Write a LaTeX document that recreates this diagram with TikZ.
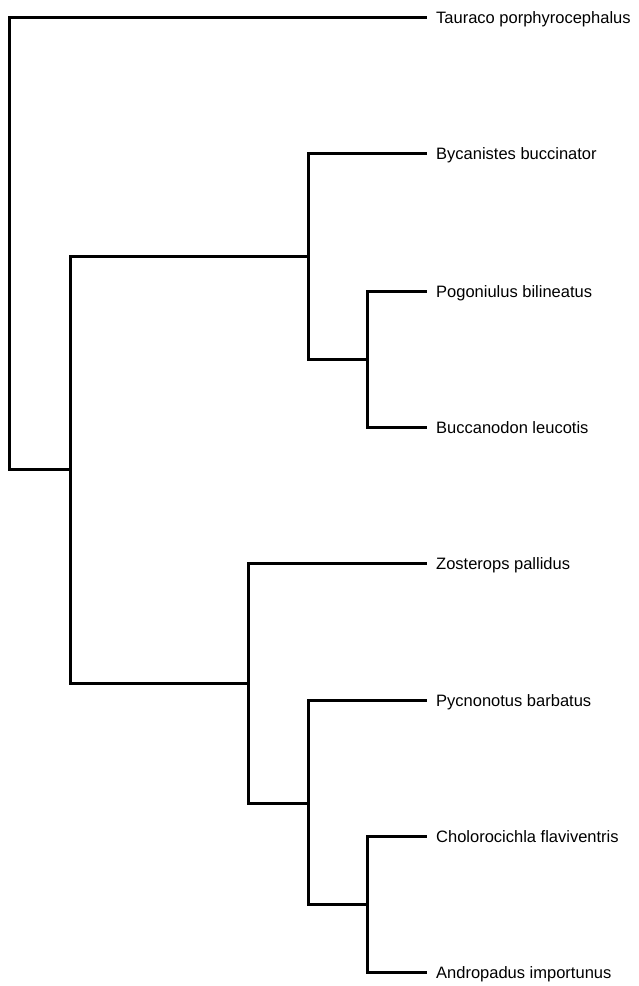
\documentclass[tikz,border=0pt]{standalone}
\usepackage{fontspec}
\setmainfont{Liberation Sans}
\begin{document}
\begin{tikzpicture}[x=1pt,y=-1pt,
  edge/.style={line width=3pt,line join=miter,line cap=butt},
  leaf/.style={anchor=base west,inner sep=0pt,yshift=-6pt,font=\fontsize{16.5}{18}\selectfont}]
\useasboundingbox (0,0) rectangle (639,986);
% internal nodes
\coordinate (r)  at (9,243);
\coordinate (n1) at (70,469);
\coordinate (nA) at (308,256);
\coordinate (nC) at (367,359);
\coordinate (nB) at (248,683);
\coordinate (nD) at (308,803);
\coordinate (nE) at (367,904);
% tips
\coordinate (t1) at (427,17);
\coordinate (t2) at (427,153);
\coordinate (t3) at (427,291);
\coordinate (t4) at (427,427);
\coordinate (t5) at (427,563);
\coordinate (t6) at (427,700);
\coordinate (t7) at (427,836);
\coordinate (t8) at (427,972);
% labels
\node[leaf] (l1) at (436,17)  {Tauraco porphyrocephalus};
\node[leaf] (l2) at (436,153) {Bycanistes buccinator};
\node[leaf] (l3) at (436,291) {Pogoniulus bilineatus};
\node[leaf] (l4) at (436,427) {Buccanodon leucotis};
\node[leaf] (l5) at (436,563) {Zosterops pallidus};
\node[leaf] (l6) at (436,700) {Pycnonotus barbatus};
\node[leaf] (l7) at (436,836) {Cholorocichla flaviventris};
\node[leaf] (l8) at (436,972) {Andropadus importunus};
% edges
\draw[edge] (r) |- (t1);
\draw[edge] (r) |- (n1);
\draw[edge] (n1) |- (nA);
\draw[edge] (n1) |- (nB);
\draw[edge] (nA) |- (t2);
\draw[edge] (nA) |- (nC);
\draw[edge] (nC) |- (t3);
\draw[edge] (nC) |- (t4);
\draw[edge] (nB) |- (t5);
\draw[edge] (nB) |- (nD);
\draw[edge] (nD) |- (t6);
\draw[edge] (nD) |- (nE);
\draw[edge] (nE) |- (t7);
\draw[edge] (nE) |- (t8);
\end{tikzpicture}
\end{document}
